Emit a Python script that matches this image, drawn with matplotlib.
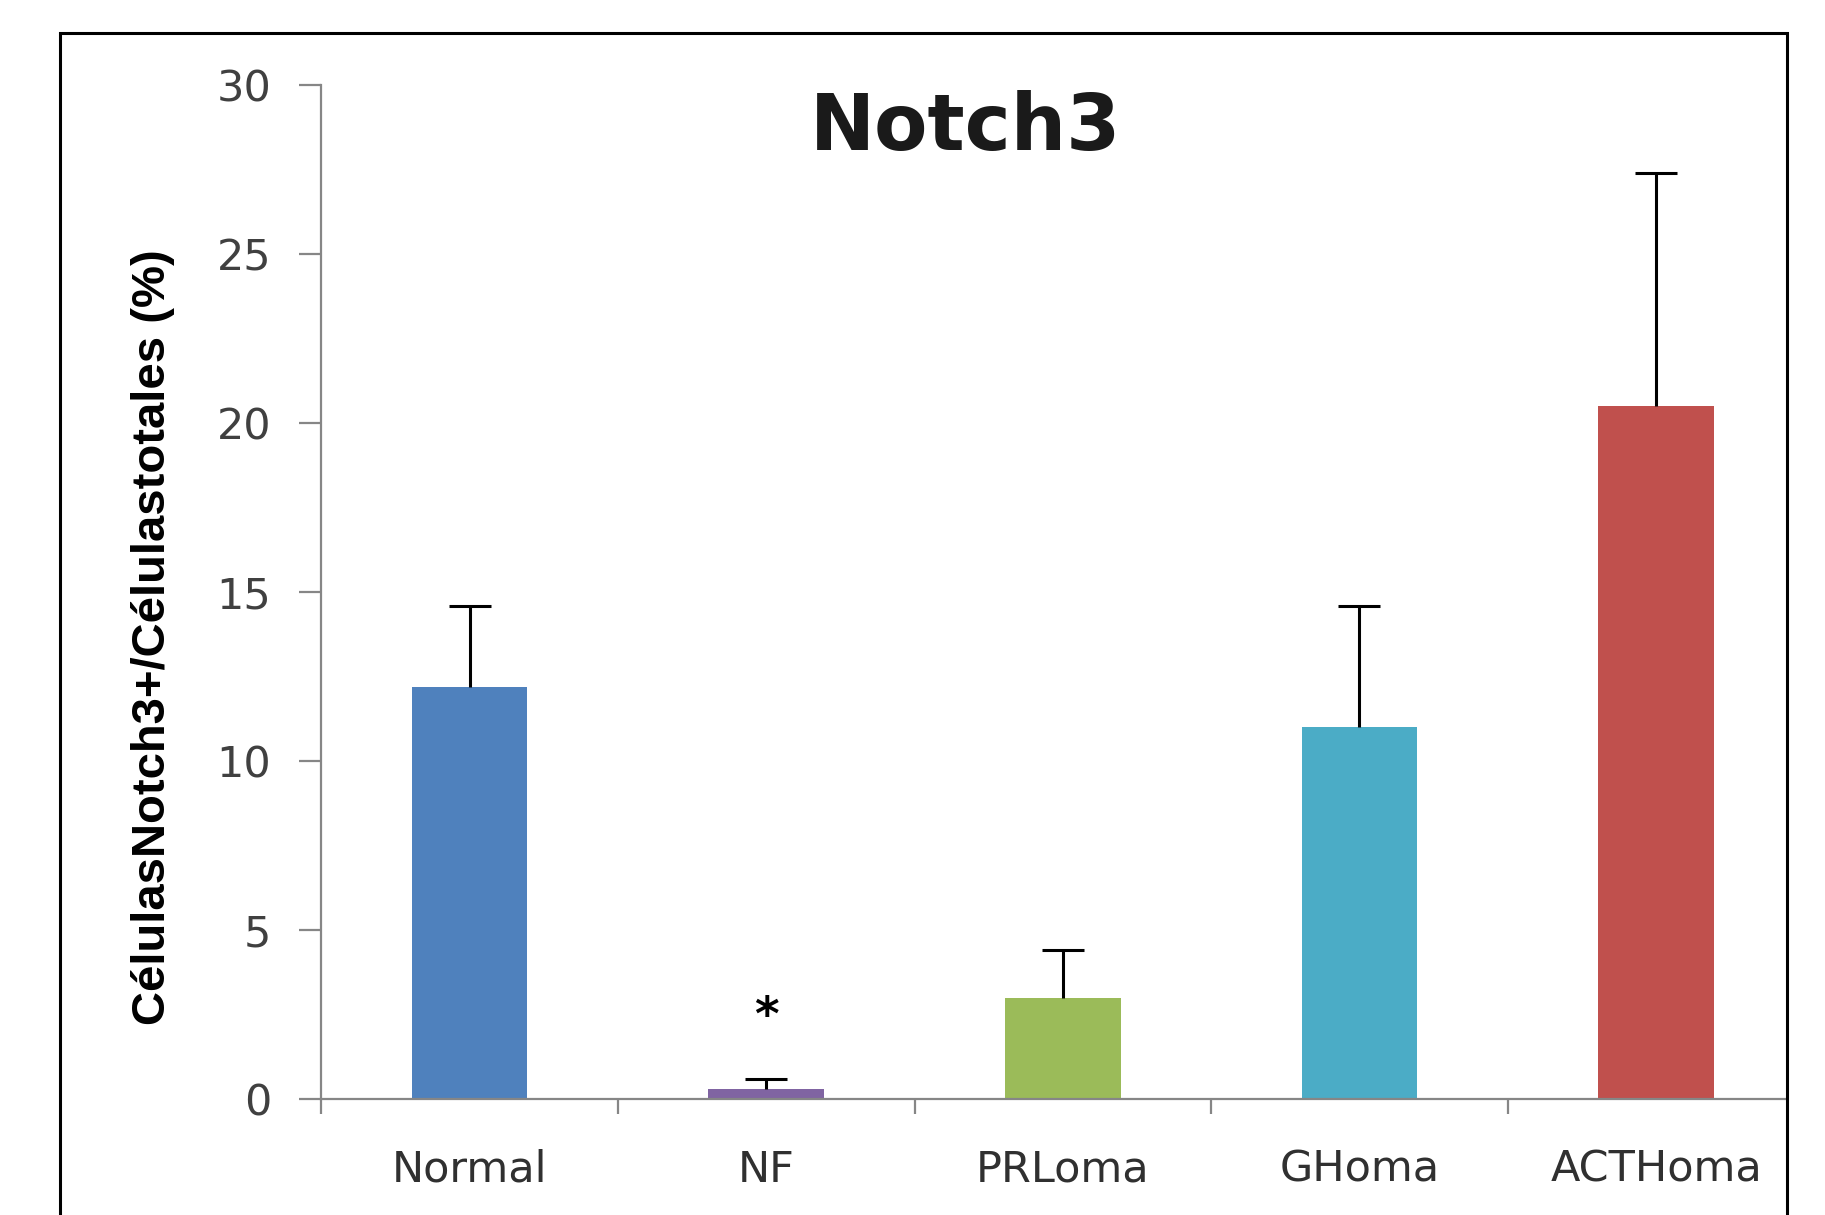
"""
Notch3 bar chart
"""
import matplotlib
matplotlib.use('Agg')
import matplotlib.pyplot as plt
from matplotlib.patches import Rectangle

# ============================== 数据 ==============================
categories = ['Normal', 'NF', 'PRLoma', 'GHoma', 'ACTHoma']
means = [12.2, 0.3, 3.0, 11.0, 20.5]
errors = [2.4, 0.3, 1.4, 3.6, 6.9]
colors = ['#4F81BD', '#8064A2', '#9BBB59', '#4BACC6', '#C0504D']
y_ticks = [0, 5, 10, 15, 20, 25, 30]

title = 'Notch3'
y_label = 'CélulasNotch3+/Célulastotales (%)'

# ============================== 绘图 ==============================
fig = plt.figure(figsize=(18.25, 12.15), dpi=100)
ax = fig.add_axes([0.176, 0.0955, 0.803, 0.8345])

x = list(range(len(categories)))
ax.bar(x, means, width=0.39, color=colors, zorder=2)
eb = ax.errorbar(x, means, yerr=[[0] * len(errors), errors], fmt='none',
                 ecolor='black', elinewidth=2.2, capsize=15, capthick=2.2, zorder=3)
# 只保留上方的横帽
eb[1][0].set_visible(False)

ax.set_xlim(-0.5, 4.44)
ax.set_ylim(0, 30)

for s in ['top', 'right']:
    ax.spines[s].set_visible(False)
for s in ['left', 'bottom']:
    ax.spines[s].set_color('#868686')
    ax.spines[s].set_linewidth(1.6)

ax.set_yticks(y_ticks)
ax.set_yticklabels([str(v) for v in y_ticks])
ax.tick_params(axis='y', direction='out', length=16, width=1.6, color='#868686',
               pad=20, labelsize=31, labelcolor='#404040')

ax.set_xticks(x)
ax.set_xticklabels(categories)
ax.tick_params(axis='x', which='major', length=0, pad=36, labelsize=31,
               labelcolor='#303030')
ax.set_xticks([-0.5, 0.5, 1.5, 2.5, 3.5], minor=True)
ax.tick_params(axis='x', which='minor', direction='out', length=11, width=1.6,
               color='#868686')

# 显著性标记
ax.text(1, 2.4, '*', ha='center', va='center', fontsize=34, fontweight='bold')

# 标题与坐标轴标签
fig.text(0.529, 0.895, title, ha='center', va='center', fontsize=56,
         fontweight='bold', color='#1a1a1a')
fig.text(0.084, 0.476, y_label, ha='center', va='center', rotation=90,
         fontsize=34, fontweight='bold',
         family=['Liberation Sans', 'DejaVu Sans'])

# 外框
fig.patches.append(Rectangle((60 / 1825, -0.05), (1787 - 60) / 1825, 1.05 - 33 / 1215,
                             transform=fig.transFigure, fill=False,
                             edgecolor='black', linewidth=2.2))

fig.savefig('out.png', dpi=100, facecolor='white')
plt.close(fig)
